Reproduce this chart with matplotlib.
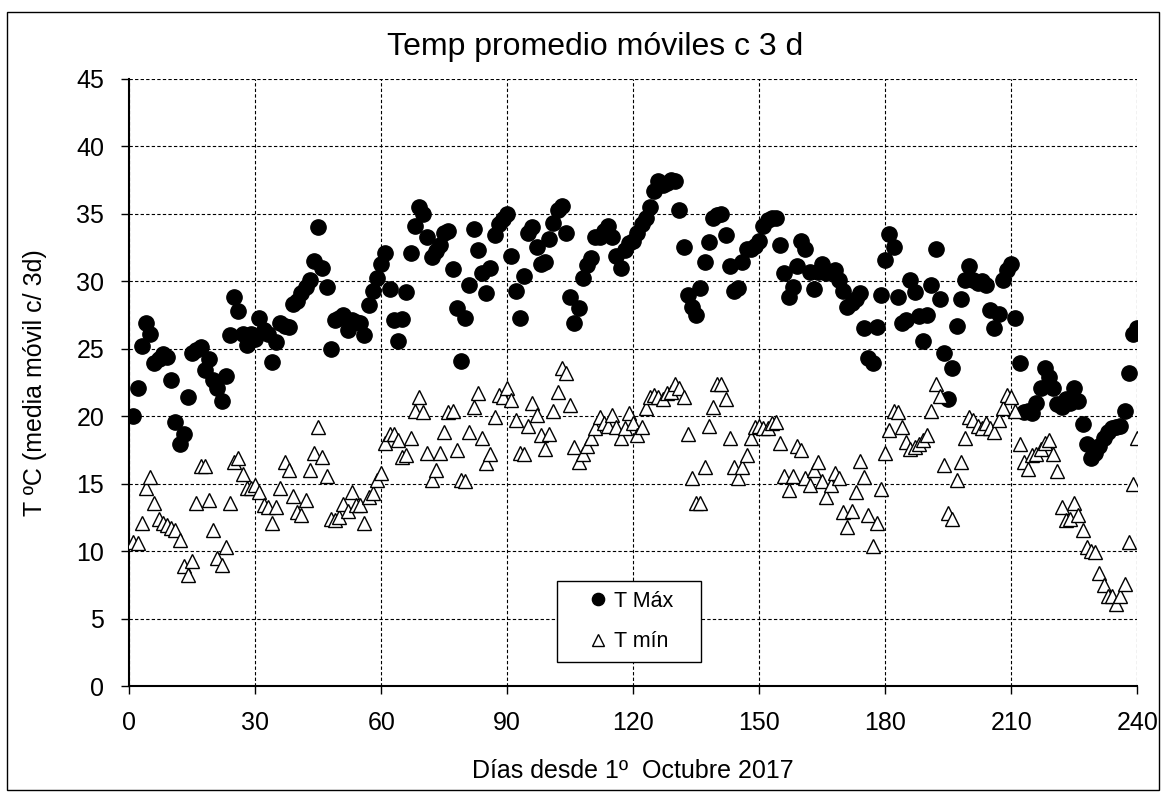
"""
Temp promedio moviles c 3 d - scatter de T max y T min
"""

import matplotlib
matplotlib.use('Agg')
import matplotlib.pyplot as plt
from matplotlib.patches import Rectangle

plt.rcParams['font.family'] = ['Liberation Sans', 'DejaVu Sans']

dias = list(range(1, 241))

t_max = [
    20.0, 22.1, 25.2, 26.9, 26.1, 23.9, 24.2, 24.6, 24.4, 22.7,
    19.6, 17.9, 18.7, 21.4, 24.7, 24.9, 25.1, 23.4, 24.2, 22.7,
    22.1, 21.1, 23.0, 26.0, 28.8, 27.8, 26.1, 25.3, 26.1, 25.7,
    27.3, 26.4, 26.1, 24.0, 25.5, 26.9, 26.7, 26.6, 28.3, 28.5,
    29.1, 29.6, 30.1, 31.5, 34.0, 31.0, 29.6, 25.0, 27.1, 27.3,
    27.5, 26.4, 27.1, 27.0, 26.9, 26.0, 28.2, 29.3, 30.2, 31.3,
    32.1, 29.4, 27.1, 25.6, 27.2, 29.2, 32.1, 34.1, 35.5, 35.0,
    33.3, 31.8, 32.2, 32.7, 33.6, 33.7, 30.9, 28.0, 24.1, 27.3,
    29.7, 33.9, 32.3, 30.6, 29.1, 31.0, 33.4, 34.2, 34.6, 35.0,
    31.9, 29.3, 27.3, 30.4, 33.6, 34.0, 32.5, 31.3, 31.4, 33.1,
    34.3, 35.3, 35.6, 33.6, 28.8, 26.9, 28.0, 30.2, 31.2, 31.7,
    33.3, 33.3, 33.7, 34.1, 33.3, 31.9, 31.0, 32.3, 32.8, 33.0,
    33.6, 34.2, 34.7, 35.5, 36.7, 37.4, 37.1, 37.3, 37.5, 37.4,
    35.3, 32.5, 29.0, 28.1, 27.5, 29.5, 31.4, 32.9, 34.7, 34.9,
    35.0, 33.4, 31.1, 29.3, 29.5, 31.4, 32.4, 32.4, 32.6, 33.0,
    34.1, 34.5, 34.7, 34.7, 32.7, 30.6, 28.8, 29.6, 31.1, 33.0,
    32.4, 30.7, 29.4, 30.7, 31.3, 30.6, 30.7, 30.8, 30.1, 29.3,
    28.1, 28.4, 28.7, 29.1, 26.5, 24.3, 23.9, 26.6, 29.0, 31.6,
    33.5, 32.5, 28.8, 26.9, 27.1, 30.1, 29.2, 27.4, 25.6, 27.5,
    29.7, 32.4, 28.7, 24.7, 21.3, 23.6, 26.7, 28.7, 30.1, 31.1,
    30.1, 29.9, 30.0, 29.7, 27.9, 26.5, 27.6, 30.1, 30.8, 31.3,
    27.3, 23.9, 20.3, 20.4, 20.2, 21.0, 22.1, 23.6, 22.9, 22.1,
    20.9, 20.7, 21.3, 21.0, 22.1, 21.1, 19.4, 17.9, 16.9, 17.3,
    17.8, 18.4, 18.8, 19.1, 19.2, 19.3, 20.4, 23.2, 26.1, 26.5,
]

t_min = [
    10.7, 10.6, 12.1, 14.7, 15.5, 13.6, 12.4, 12.1, 11.9, 11.7,
    11.6, 10.8, 8.9, 8.2, 9.3, 13.6, 16.3, 16.3, 13.8, 11.6,
    9.5, 9.0, 10.3, 13.6, 16.6, 16.9, 15.7, 14.7, 14.7, 14.9,
    14.4, 13.4, 13.3, 12.1, 13.3, 14.7, 16.6, 16.0, 14.1, 12.9,
    12.7, 13.8, 16.0, 17.3, 19.2, 17.0, 15.6, 12.4, 12.3, 12.5,
    13.5, 13.0, 14.4, 13.4, 13.4, 12.1, 14.0, 14.3, 15.3, 15.8,
    18.0, 18.7, 18.7, 18.2, 17.0, 17.1, 18.4, 20.4, 21.4, 20.3,
    17.3, 15.3, 16.0, 17.3, 18.8, 20.3, 20.4, 17.5, 15.3, 15.2,
    18.8, 20.7, 21.7, 18.4, 16.5, 17.2, 19.9, 21.6, 21.4, 22.1,
    21.2, 19.7, 17.3, 17.2, 19.3, 21.0, 20.1, 18.6, 17.6, 18.7,
    20.4, 21.8, 23.6, 23.2, 20.8, 17.7, 16.6, 17.2, 17.8, 18.4,
    19.1, 19.9, 19.5, 19.3, 20.1, 19.2, 18.4, 19.1, 20.2, 19.5,
    18.6, 19.2, 20.6, 21.4, 21.6, 21.4, 21.3, 21.7, 21.8, 22.4,
    22.1, 21.4, 18.7, 15.4, 13.6, 13.6, 16.2, 19.3, 20.7, 22.4,
    22.4, 21.3, 18.4, 16.2, 15.4, 16.2, 17.1, 18.4, 19.2, 19.3,
    19.1, 19.1, 19.5, 19.6, 18.0, 15.6, 14.5, 15.6, 17.8, 17.5,
    15.4, 14.9, 16.0, 16.6, 15.2, 14.0, 14.9, 15.8, 15.4, 12.9,
    11.8, 13.0, 14.4, 16.7, 15.5, 12.7, 10.4, 12.1, 14.6, 17.3,
    19.0, 20.4, 20.3, 19.2, 18.1, 17.6, 17.7, 17.9, 18.2, 18.6,
    20.4, 22.4, 21.5, 16.4, 12.8, 12.4, 15.3, 16.6, 18.4, 19.9,
    19.7, 19.3, 19.1, 19.5, 19.1, 18.8, 19.7, 20.6, 21.6, 21.4,
    20.4, 17.9, 16.6, 16.1, 17.1, 17.2, 17.6, 18.0, 18.2, 17.2,
    15.9, 13.3, 12.3, 12.4, 13.6, 12.7, 11.6, 10.3, 10.0, 9.9,
    8.4, 7.5, 6.7, 6.7, 6.1, 6.7, 7.6, 10.7, 15.0, 18.4,
]

x_ticks = [0, 30, 60, 90, 120, 150, 180, 210, 240]
y_ticks = [0, 5, 10, 15, 20, 25, 30, 35, 40, 45]

fig = plt.figure(figsize=(11.64, 7.95), dpi=100)
ax = fig.add_axes([0.111, 0.137, 0.866, 0.764])

ax.plot(dias, t_max, linestyle='none', marker='o', markersize=11,
        color='black', label='T Máx', zorder=3)
ax.plot(dias, t_min, linestyle='none', marker='^', markersize=10,
        markerfacecolor='white', markeredgecolor='black', markeredgewidth=1.0,
        label='T mín', zorder=3)

ax.set_xlim(0, 240)
ax.set_ylim(0, 45)
ax.set_xticks(x_ticks)
ax.set_yticks(y_ticks)
ax.tick_params(labelsize=18, direction='out', length=6, width=1, pad=12)
ax.grid(True, color='black', linestyle=(0, (3, 2)), linewidth=0.8)
ax.set_axisbelow(True)
for s in ['top', 'right']:
    ax.spines[s].set_visible(False)
for s in ['left', 'bottom']:
    ax.spines[s].set_linewidth(1.5)

# titulo centrado en el grafico entero, como en Excel
fig.text(0.511, 0.941, 'Temp promedio móviles c 3 d', fontsize=23,
         ha='center', va='center')
ax.set_xlabel('Días desde 1º  Octubre 2017', fontsize=18, labelpad=17)
ax.set_ylabel('T ºC (media móvil c/ 3d)', fontsize=18, labelpad=21)

# marco de la leyenda aparte (mas ancho que el de matplotlib)
ax.add_patch(Rectangle((0.4246, 0.0395), 0.1429, 0.1335, transform=ax.transAxes,
                       facecolor='white', edgecolor='black', linewidth=1.0, zorder=4))
leg = ax.legend(loc='center', bbox_to_anchor=(0.496, 0.106), fontsize=15.5,
                frameon=False, handletextpad=0.1, markerscale=0.8,
                borderpad=0.5, labelspacing=0.9, handlelength=1.2, borderaxespad=0)
leg.set_zorder(5)

fig.patches.append(Rectangle((0.006, 0.006), 0.990, 0.979, transform=fig.transFigure,
                             fill=False, edgecolor='black', linewidth=1.0))

plt.savefig('out.png', dpi=100)
